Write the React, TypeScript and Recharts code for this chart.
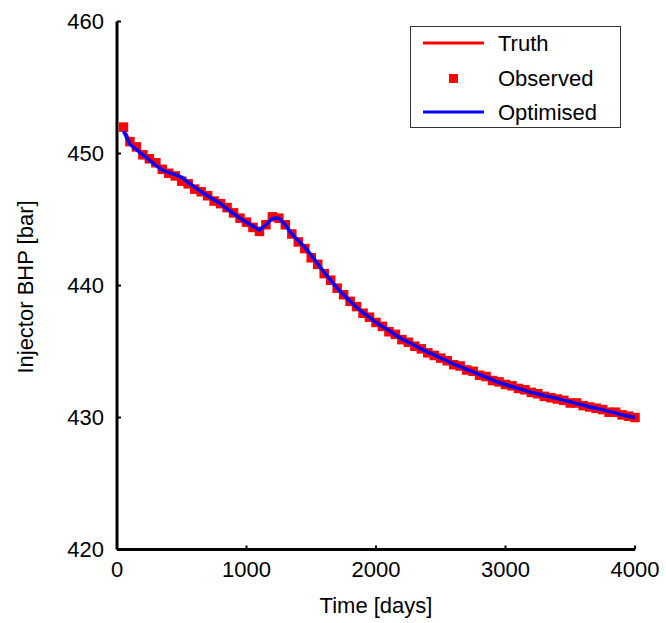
import React from 'react';
import { ComposedChart, LineChart, Line, Scatter, XAxis, YAxis, Legend, Label } from 'recharts';

const times = [
  50, 100, 150, 200, 250, 300, 350, 400, 450, 500,
  550, 600, 650, 700, 750, 800, 850, 900, 950, 1000,
  1050, 1100, 1150, 1200, 1250, 1300, 1350, 1400, 1450, 1500,
  1550, 1600, 1650, 1700, 1750, 1800, 1850, 1900, 1950, 2000,
  2050, 2100, 2150, 2200, 2250, 2300, 2350, 2400, 2450, 2500,
  2550, 2600, 2650, 2700, 2750, 2800, 2850, 2900, 2950, 3000,
  3050, 3100, 3150, 3200, 3250, 3300, 3350, 3400, 3450, 3500,
  3550, 3600, 3650, 3700, 3750, 3800, 3850, 3900, 3950, 4000,
];

const truth = [
  451.9, 450.9, 450.4, 450.0, 449.6, 449.2, 448.85, 448.5, 448.25, 448.0,
  447.7, 447.4, 447.1, 446.8, 446.5, 446.2, 445.85, 445.5, 445.15, 444.8,
  444.45, 444.15, 444.55, 445.2, 445.15, 444.6, 443.9, 443.3, 442.75, 442.15,
  441.55, 440.95, 440.35, 439.8, 439.3, 438.8, 438.35, 437.95, 437.55, 437.2,
  436.85, 436.55, 436.25, 435.95, 435.7, 435.45, 435.2, 434.95, 434.7, 434.5,
  434.25, 434.05, 433.85, 433.65, 433.45, 433.25, 433.05, 432.85, 432.7, 432.5,
  432.35, 432.2, 432.05, 431.9, 431.75, 431.65, 431.5, 431.4, 431.3, 431.15,
  431.05, 430.95, 430.8, 430.7, 430.6, 430.45, 430.35, 430.2, 430.1, 430.0,
];

const observed = [
  452.0, 450.9, 450.5, 449.9, 449.6, 449.3, 448.8, 448.5, 448.3, 447.9,
  447.7, 447.3, 447.1, 446.8, 446.4, 446.2, 445.9, 445.5, 445.1, 444.8,
  444.4, 444.1, 444.6, 445.2, 445.1, 444.6, 443.9, 443.3, 442.8, 442.1,
  441.6, 440.9, 440.4, 439.8, 439.3, 438.8, 438.4, 437.9, 437.6, 437.2,
  436.9, 436.5, 436.3, 435.9, 435.7, 435.4, 435.2, 434.9, 434.7, 434.5,
  434.3, 434.0, 433.9, 433.6, 433.5, 433.2, 433.1, 432.8, 432.7, 432.5,
  432.4, 432.2, 432.1, 431.9, 431.8, 431.6, 431.5, 431.4, 431.3, 431.1,
  431.1, 430.9, 430.8, 430.7, 430.6, 430.4, 430.4, 430.2, 430.1, 430.0,
];

const optimised = [
  451.7, 450.7, 450.3, 449.9, 449.5, 449.1, 448.75, 448.55, 448.4, 448.2,
  447.8, 447.45, 447.1, 446.8, 446.5, 446.2, 445.8, 445.45, 445.1, 444.8,
  444.5, 444.2, 444.6, 445.1, 445.1, 444.6, 443.9, 443.4, 442.9, 442.3,
  441.65, 441.0, 440.4, 439.8, 439.3, 438.8, 438.35, 437.95, 437.6, 437.2,
  436.9, 436.6, 436.25, 435.95, 435.7, 435.45, 435.2, 434.95, 434.75, 434.5,
  434.3, 434.05, 433.85, 433.65, 433.45, 433.25, 433.05, 432.85, 432.65, 432.5,
  432.35, 432.2, 432.05, 431.9, 431.8, 431.65, 431.55, 431.45, 431.3, 431.2,
  431.05, 430.95, 430.8, 430.7, 430.6, 430.45, 430.35, 430.2, 430.1, 430.0,
];

const xTicks = [0, 1000, 2000, 3000, 4000];
const yTicks = [420, 430, 440, 450, 460];

const rows = times.map((t, i) => ({
  t,
  truth: truth[i],
  observed: observed[i],
  optimised: optimised[i],
}));

const W = 666;
const H = 623;
const FONT = '"Liberation Sans", Arial, Helvetica, sans-serif';
const FS = 22;
const GAP = 13;
const LEFT = 117;
const BOTTOM = 73.5;
const MARGIN = { top: 21.5, right: 31, bottom: 0, left: 0 };

// ticks point into the plot, so draw them ourselves
const YTick = (props: any) => {
  const { x, y, payload } = props;
  const ax = x + GAP;
  return (
    <g>
      <line x1={ax} y1={y} x2={ax + 4} y2={y} stroke="#000" strokeWidth={2} />
      <text x={x} y={y} dy="0.36em" textAnchor="end" fontSize={FS} fontFamily={FONT} fill="#000">
        {payload.value}
      </text>
    </g>
  );
};

const XTick = (props: any) => {
  const { x, y, payload } = props;
  const ay = y - GAP;
  return (
    <g>
      <line x1={x} y1={ay} x2={x} y2={ay - 4} stroke="#000" strokeWidth={2} />
      <text x={x} y={y - 1} dy="0.72em" textAnchor="middle" fontSize={FS} fontFamily={FONT} fill="#000">
        {payload.value}
      </text>
    </g>
  );
};

const Square = (props: any) => {
  const { cx, cy } = props;
  return <rect x={cx - 4.75} y={cy - 4.75} width={9.5} height={9.5} fill="#ff0000" />;
};

const LegendBox = () => (
  <svg width={211} height={102} style={{ display: 'block' }}>
    <rect x={0.5} y={0.5} width={210} height={101} fill="#fff" stroke="#333" strokeWidth={1} />
    <line x1={13} y1={17} x2={74} y2={17} stroke="#ff0000" strokeWidth={3} />
    <rect x={39} y={48} width={9} height={9} fill="#ff0000" />
    <line x1={13} y1={86} x2={74} y2={86} stroke="#0000ff" strokeWidth={3} />
    <text x={88} y={17} dy="0.36em" fontSize={FS} fontFamily={FONT} fill="#000">Truth</text>
    <text x={88} y={52} dy="0.36em" fontSize={FS} fontFamily={FONT} fill="#000">Observed</text>
    <text x={88} y={86} dy="0.36em" fontSize={FS} fontFamily={FONT} fill="#000">Optimised</text>
  </svg>
);

const App: React.FC = () => {
  return (
    <div style={{ position: 'absolute', left: 0, top: 0, width: W, height: H, background: '#fff' }}>
      {/* bottom layer: axes, legend and the observed squares */}
      <div style={{ position: 'absolute', left: 0, top: 0 }}>
        <ComposedChart width={W} height={H} data={rows} margin={MARGIN}>
          <XAxis
            dataKey="t"
            type="number"
            domain={[0, 4000]}
            ticks={xTicks}
            tickSize={0}
            tickMargin={GAP}
            tick={<XTick />}
            height={BOTTOM}
            axisLine={{ stroke: '#000', strokeWidth: 3 }}
            tickLine={false}
          >
            <Label value="Time [days]" position="insideBottom" offset={10} fontSize={FS} fontFamily={FONT} fill="#000" />
          </XAxis>
          <YAxis
            type="number"
            domain={[420, 460]}
            ticks={yTicks}
            width={LEFT}
            tickSize={0}
            tickMargin={GAP}
            tick={<YTick />}
            axisLine={{ stroke: '#000', strokeWidth: 3 }}
            tickLine={false}
            label={{
              content: () => (
                <text
                  x={25}
                  y={287}
                  transform="rotate(-90 25 287)"
                  textAnchor="middle"
                  dy="0.36em"
                  fontSize={FS}
                  fontFamily={FONT}
                  fill="#000"
                >
                  Injector BHP [bar]
                </text>
              ),
            }}
          />
          <Legend
            layout="horizontal"
            verticalAlign="middle"
            align="center"
            content={() => <LegendBox />}
            wrapperStyle={{ position: 'absolute', left: 410, top: 26, width: 211, height: 102 }}
          />
          <Scatter dataKey="observed" shape={<Square />} isAnimationActive={false} legendType="none" />
        </ComposedChart>
      </div>

      {/* top layer: truth and optimised lines, same scales */}
      <div style={{ position: 'absolute', left: 0, top: 0, pointerEvents: 'none' }}>
        <LineChart
          width={W}
          height={H}
          data={rows}
          margin={{ top: MARGIN.top, right: MARGIN.right, bottom: BOTTOM, left: LEFT }}
        >
          <XAxis dataKey="t" type="number" domain={[0, 4000]} hide />
          <YAxis type="number" domain={[420, 460]} hide />
          <Line
            type="linear"
            dataKey="truth"
            stroke="#ff0000"
            strokeWidth={3}
            dot={false}
            activeDot={false}
            isAnimationActive={false}
          />
          <Line
            type="linear"
            dataKey="optimised"
            stroke="#0000ff"
            strokeWidth={3.5}
            dot={false}
            activeDot={false}
            isAnimationActive={false}
          />
        </LineChart>
      </div>
    </div>
  );
};

export default App;
